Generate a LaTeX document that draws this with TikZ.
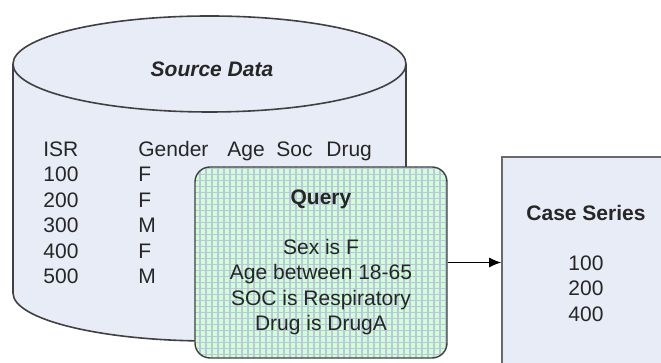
\documentclass[tikz,border=0pt]{standalone}
\usepackage{fontspec}
\setmainfont{Liberation Sans}
\usepackage{tikz}
\usetikzlibrary{arrows.meta,positioning,calc}
\definecolor{borderDark}{RGB}{64,64,64}
\definecolor{borderGray}{RGB}{105,105,105}
\definecolor{textDark}{RGB}{38,38,38}
\definecolor{sourceFill}{RGB}{232,236,246}
\definecolor{queryGreen}{RGB}{208,255,208}
\definecolor{queryGrid}{RGB}{186,198,226}
\tikzset{
  basefont/.style={font=\fontsize{10.5}{12.75}\selectfont, text=textDark},
  cellText/.style={basefont, anchor=base west, inner sep=0pt},
  cylinder/.style={draw=borderDark, line width=0.8pt, fill=sourceFill},
  qbox/.style={
    rectangle, rounded corners=7.5pt, draw=borderDark, line width=0.7pt,
    fill=queryGreen, minimum width=126pt, minimum height=95.5pt,
    align=center, basefont,
    path picture={\draw[queryGrid, line width=0.65pt]
      (path picture bounding box.south west) grid[step=3pt]
      (path picture bounding box.north east);}
  },
  casebox/.style={
    rectangle, draw=borderGray, line width=0.8pt, fill=sourceFill,
    minimum width=84pt, minimum height=106.5pt, align=center, basefont
  },
  arr/.style={-{Latex[length=6pt,width=5pt]}, line width=0.6pt, draw=black}
}
\begin{document}
\begin{tikzpicture}[x=0.5pt,y=0.5pt]
  \useasboundingbox (0,0) rectangle (661,363);
  \draw[cylinder] (13,70) -- (13,299)
    arc[start angle=180, end angle=0, x radius=196.5, y radius=48] -- (406,70)
    arc[start angle=0, end angle=-180, x radius=196.5, y radius=48] -- cycle;
  \draw[borderDark, line width=0.8pt] (13,299)
    arc[start angle=180, end angle=360, x radius=196.5, y radius=48];
  \node[basefont, anchor=base] (source) at (212,286.5) {\textbf{\textit{Source Data}}};
  \node[cellText] (hisr) at (43,206.5) {ISR};
  \node[cellText] (hgender) at (138,206.5) {Gender};
  \node[cellText] (hage) at (227,206.5) {Age};
  \node[cellText] (hsoc) at (276,206.5) {Soc};
  \node[cellText] (hdrug) at (326,206.5) {Drug};
  \foreach \id/\sx [count=\i] in {100/F,200/F,300/M,400/F,500/M}{
    \node[cellText] (isr\i) at (43,206.5-25.5*\i) {\id};
    \node[cellText] (sex\i) at (138,206.5-25.5*\i) {\sx};
  }
  \node[qbox] (query) at (321,100.5)
    {\textbf{Query}\\[12pt]Sex is F\\Age between 18-65\\SOC is Respiratory\\Drug is DrugA};
  \node[casebox] (cases) at (586,99.5)
    {\textbf{Case Series}\\[12pt]100\\200\\400};
  \draw[arr] (query.east) -- (query.east -| cases.west);
\end{tikzpicture}
\end{document}
